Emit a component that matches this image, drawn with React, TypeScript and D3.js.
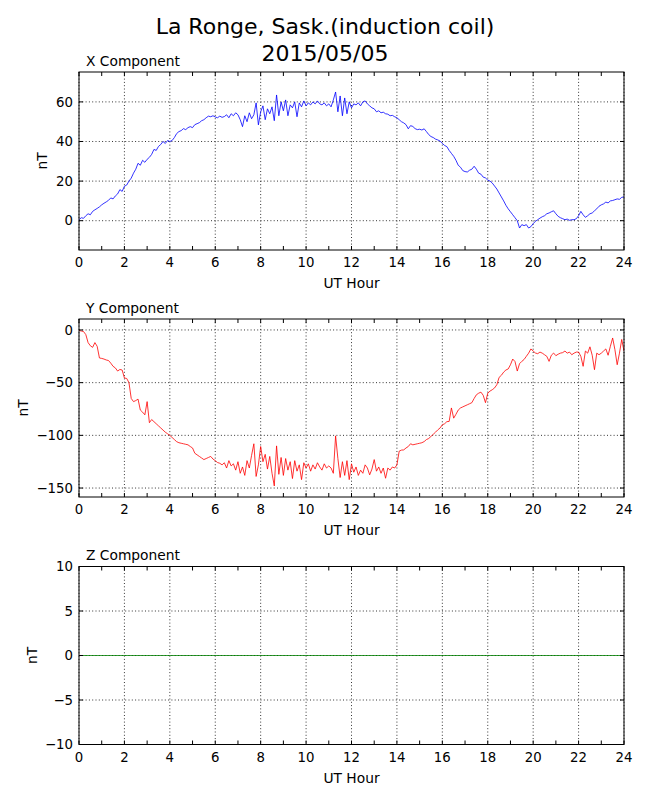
import React from 'react';
import * as d3 from 'd3';

// Sampling step of the typed series (hours)
const SAMPLE_STEP = 0.1;

// X component (nT), one row per hour, 10 samples per hour
const xComponent = [
  0.5, 1.5, 1.2, 2.5, 3.5, 3.0, 4.7, 5.5, 6.2, 7.0,
  8.0, 8.8, 9.5, 10.3, 11.5, 11.0, 12.5, 13.5, 15.7, 14.8,
  17.4, 18.0, 20.0, 21.5, 24.0, 26.0, 29.0, 28.0, 30.5, 29.5,
  31.0, 32.0, 33.5, 36.0, 35.5, 37.5, 38.5, 40.0, 39.0, 40.5,
  40.0, 40.5, 42.0, 44.0, 45.0, 45.5, 46.5, 46.0, 47.0, 47.5,
  47.0, 48.5, 49.0, 49.5, 50.5, 51.0, 52.0, 52.8, 52.5, 53.0,
  52.4, 52.0, 52.8, 52.2, 52.6, 53.5, 52.0, 54.0, 53.0, 54.5,
  53.5, 51.0, 47.5, 53.0, 50.0, 54.5, 51.5, 53.5, 59.5, 48.4,
  55.0, 58.0, 51.0, 56.5, 54.0, 57.5, 50.5, 63.5, 53.0, 60.0,
  55.5, 61.0, 53.0, 58.5, 57.0, 60.0, 52.5, 59.5, 57.5, 60.5,
  58.0, 59.5, 58.5, 60.0, 59.0, 60.5, 59.0, 58.5, 59.5, 58.0,
  59.0, 57.5, 61.0, 65.0, 55.0, 63.0, 53.0, 62.0, 54.0, 60.0,
  57.0, 59.0, 58.5, 59.5, 58.0, 60.0, 60.5, 59.0, 58.0, 57.0,
  56.5, 55.0, 55.5, 54.5, 54.8, 54.0, 53.8, 53.0, 53.2, 52.5,
  52.0, 51.0, 50.0, 49.4, 48.5, 46.4, 48.0, 47.6, 46.5, 46.0,
  46.2, 45.8, 46.4, 45.0, 43.5, 42.5, 42.0, 41.2, 40.8, 40.2,
  39.0, 38.0, 37.4, 35.5, 34.0, 32.5, 30.5, 28.0, 27.0, 25.3,
  24.8, 24.6, 25.5, 26.0, 27.5, 26.0, 24.0, 23.5, 22.0, 21.6,
  20.5, 20.0, 19.0, 17.5, 16.0, 14.0, 12.0, 10.0, 7.8, 6.0,
  4.5, 3.0, 1.5, 0.0, -3.7, -2.0, -2.5, -2.0, -3.7, -3.0,
  -1.5, -0.3, 0.5, 1.3, 2.0, 2.5, 3.5, 3.9, 4.5, 5.0,
  3.5, 2.2, 1.5, 1.0, 0.5, 0.8, 0.2, 0.5, 0.5, 1.0,
  2.5, 4.7, 3.0, 1.7, 2.5, 3.5, 3.9, 5.0, 6.0, 7.3,
  8.0, 8.5, 9.4, 9.0, 10.0, 10.2, 10.6, 11.0, 10.8, 11.8,
  12.0,
];

// Y component (nT)
const yComponent = [
  -0.5, -1.0, -1.5, -4.4, -12.0, -15.0, -16.5, -12.0, -15.5, -26.6,
  -27.0, -27.6, -28.5, -29.0, -31.5, -34.5, -36.0, -39.0, -37.5, -38.0,
  -45.6, -46.0, -50.0, -65.0, -68.0, -67.0, -65.6, -76.0, -78.0, -80.5,
  -68.0, -88.0, -85.0, -87.0, -89.0, -91.0, -93.0, -95.0, -97.0, -98.5,
  -100.0, -102.0, -104.0, -106.0, -107.0, -107.5, -108.0, -108.5, -109.0, -110.6,
  -112.0, -117.0, -118.5, -120.0, -121.5, -123.0, -122.0, -121.0, -120.0, -122.5,
  -124.0, -125.8, -126.5, -128.0, -126.0, -131.0, -124.0, -129.0, -127.0, -133.0,
  -125.0, -136.0, -130.0, -138.0, -124.0, -131.0, -119.0, -108.0, -139.0, -128.0,
  -110.6, -125.0, -118.0, -132.0, -120.0, -136.0, -148.0, -110.0, -137.0, -121.0,
  -138.0, -122.0, -133.0, -125.0, -141.0, -124.0, -134.0, -128.0, -142.0, -126.0,
  -131.0, -127.0, -134.0, -128.0, -132.0, -126.0, -130.0, -133.0, -127.0, -131.0,
  -129.0, -131.0, -136.0, -100.5, -122.0, -140.0, -125.0, -138.0, -124.0, -142.0,
  -127.0, -135.0, -130.0, -138.0, -133.0, -136.0, -128.0, -131.0, -137.5, -132.0,
  -123.0, -134.0, -130.0, -136.0, -131.0, -140.7, -131.0, -133.0, -130.0, -131.0,
  -128.0, -115.0, -114.0, -113.8, -112.0, -110.6, -108.0, -109.0, -108.5, -108.0,
  -107.5, -107.0, -105.9, -104.0, -103.0, -101.0, -99.0, -97.0, -94.8, -93.0,
  -90.0, -89.0, -87.0, -86.8, -74.0, -83.7, -80.0, -76.0, -74.0, -73.0,
  -72.0, -71.0, -70.0, -69.0, -65.0, -61.5, -60.0, -59.0, -62.0, -69.0,
  -60.0, -58.0, -56.7, -55.0, -52.0, -45.0, -43.0, -40.0, -38.0, -37.0,
  -33.0, -27.6, -30.0, -39.0, -32.0, -29.8, -28.0, -25.0, -22.0, -18.0,
  -20.0, -21.9, -22.5, -21.0, -22.0, -23.5, -25.0, -29.8, -24.0, -21.9,
  -24.4, -23.0, -22.0, -21.5, -20.0, -22.0, -21.0, -23.5, -22.0, -21.0,
  -21.0, -25.0, -34.5, -20.0, -22.0, -16.0, -24.0, -37.7, -22.0, -23.5,
  -22.0, -20.0, -18.0, -24.0, -15.5, -7.6, -18.7, -33.0, -22.0, -9.0,
  -20.0,
];

// Z component (nT): flat zero line
const zHours = [0, 24];
const zComponent = [0, 0];

const hourTicks = [0, 2, 4, 6, 8, 10, 12, 14, 16, 18, 20, 22, 24];
const hourMinorTicks = [1, 3, 5, 7, 9, 11, 13, 15, 17, 19, 21, 23];
const xCompTicks = [0, 20, 40, 60];
const yCompTicks = [0, -50, -100, -150];
const zCompTicks = [-10, -5, 0, 5, 10];

const titleLines = ['La Ronge, Sask.(induction coil)', '2015/05/05'];
const panelTitles = ['X Component', 'Y Component', 'Z Component'];

const FONT = '"DejaVu Sans", "Liberation Sans", sans-serif';
const W = 650;
const H = 800;
const LEFT = 79;
const RIGHT = 624;
const PH = 178;

const fmt = (n: number) => (n < 0 ? '\u2212' + Math.abs(n) : String(n));

type PanelProps = {
  id: string;
  top: number;
  hours: number[];
  values: number[];
  color: string;
  domain: [number, number];
  ticks: number[];
  title: string;
  labelX: number;
};

function Panel({ id, top, hours, values, color, domain, ticks, title, labelX }: PanelProps) {
  const x = d3.scaleLinear().domain([0, 24]).range([LEFT, RIGHT]);
  const y = d3.scaleLinear().domain(domain).range([top + PH, top]);
  const line = d3
    .line<number>()
    .x((_, i) => x(hours[i]))
    .y((d) => y(d));
  const bottom = top + PH;
  return (
    <g>
      <defs>
        <clipPath id={id}>
          <rect x={LEFT} y={top} width={RIGHT - LEFT} height={PH} />
        </clipPath>
      </defs>
      {hourTicks.map((h) => (
        <line
          key={'gx' + h}
          x1={x(h)}
          x2={x(h)}
          y1={top}
          y2={bottom}
          stroke="#000"
          strokeWidth={0.8}
          strokeDasharray="1,2.3"
        />
      ))}
      {ticks.map((t) => (
        <line
          key={'gy' + t}
          x1={LEFT}
          x2={RIGHT}
          y1={y(t)}
          y2={y(t)}
          stroke="#000"
          strokeWidth={0.8}
          strokeDasharray="1,2.3"
        />
      ))}
      <path
        d={line(values) || ''}
        fill="none"
        stroke={color}
        strokeWidth={0.8}
        clipPath={`url(#${id})`}
      />
      {[...hourTicks, ...hourMinorTicks].map((h) => (
        <g key={'tx' + h}>
          <line x1={x(h)} x2={x(h)} y1={bottom} y2={bottom - 4} stroke="#000" strokeWidth={1} />
          <line x1={x(h)} x2={x(h)} y1={top} y2={top + 4} stroke="#000" strokeWidth={1} />
        </g>
      ))}
      {ticks.map((t) => (
        <g key={'ty' + t}>
          <line x1={LEFT} x2={LEFT + 4} y1={y(t)} y2={y(t)} stroke="#000" strokeWidth={1} />
          <line x1={RIGHT} x2={RIGHT - 4} y1={y(t)} y2={y(t)} stroke="#000" strokeWidth={1} />
        </g>
      ))}
      <rect x={LEFT} y={top} width={RIGHT - LEFT} height={PH} fill="none" stroke="#000" strokeWidth={1} />
      {hourTicks.map((h) => (
        <text key={'lx' + h} x={x(h)} y={bottom + 17} textAnchor="middle" fontSize={13.3} fontFamily={FONT}>
          {String(h)}
        </text>
      ))}
      {ticks.map((t) => (
        <text
          key={'ly' + t}
          x={LEFT - 6}
          y={y(t) + 4.8}
          textAnchor="end"
          fontSize={13.3}
          fontFamily={FONT}
        >
          {fmt(t)}
        </text>
      ))}
      <text x={(LEFT + RIGHT) / 2} y={bottom + 38} textAnchor="middle" fontSize={13.8} fontFamily={FONT}>
        UT Hour
      </text>
      <text
        transform={`translate(${labelX},${top + PH / 2}) rotate(-90)`}
        textAnchor="middle"
        fontSize={13.8}
        fontFamily={FONT}
      >
        nT
      </text>
      <text x={86} y={top - 6.3} fontSize={13.8} fontFamily={FONT}>
        {title}
      </text>
    </g>
  );
}

export default function App() {
  const sampleHours = xComponent.map((_, i) => i * SAMPLE_STEP);
  return (
    <svg
      width={W}
      height={H}
      viewBox={`0 0 ${W} ${H}`}
      style={{ position: 'absolute', left: 0, top: 0, background: '#fff' }}
    >
      <rect x={0} y={0} width={W} height={H} fill="#fff" />
      <text x={W / 2} y={34.3} textAnchor="middle" fontSize={22} fontFamily={FONT}>
        {titleLines[0]}
      </text>
      <text x={W / 2} y={61} textAnchor="middle" fontSize={22} fontFamily={FONT}>
        {titleLines[1]}
      </text>
      <Panel
        id="clipX"
        top={72}
        hours={sampleHours}
        values={xComponent}
        color="#0000ff"
        domain={[-14.8, 75.1]}
        ticks={xCompTicks}
        title={panelTitles[0]}
        labelX={47}
      />
      <Panel
        id="clipY"
        top={319}
        hours={sampleHours}
        values={yComponent}
        color="#ff0000"
        domain={[-158.5, 10.4]}
        ticks={yCompTicks}
        title={panelTitles[1]}
        labelX={28}
      />
      <Panel
        id="clipZ"
        top={566.5}
        hours={zHours}
        values={zComponent}
        color="#008000"
        domain={[-10, 10]}
        ticks={zCompTicks}
        title={panelTitles[2]}
        labelX={37}
      />
    </svg>
  );
}
